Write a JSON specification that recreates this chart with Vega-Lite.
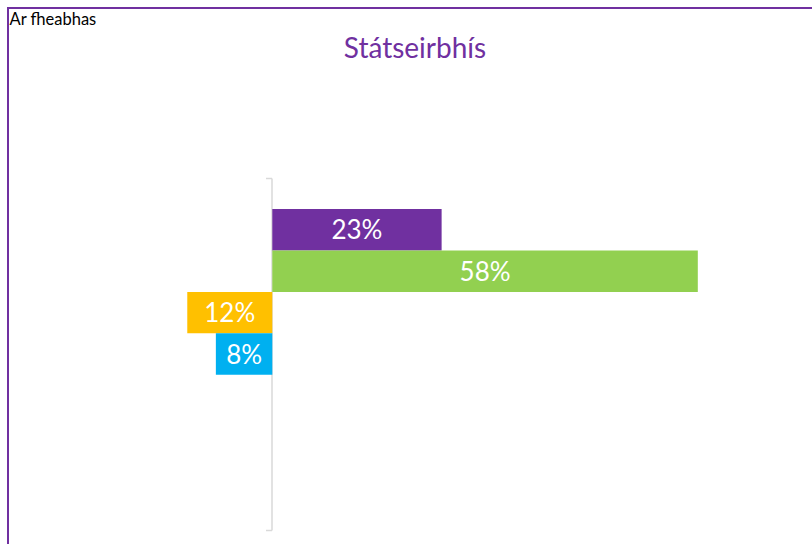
{
  "$schema": "https://vega.github.io/schema/vega-lite/v6.json",
  "autosize": "none",
  "width": 806,
  "height": 540,
  "padding": {"left": 8, "top": 8, "right": 0, "bottom": 0},
  "background": "white",
  "config": {"view": {"stroke": "#7030A0", "strokeWidth": 2}, "font": "Lato"},
  "title": {"text": "Státseirbhís", "color": "#7030A0", "font": "Lato", "fontSize": 28, "fontWeight": "normal", "anchor": "middle", "frame": "group", "offset": -56, "dx": 4},
  "data": {"values": [
    {"group": "Státseirbhís", "rating": "Ar fheabhas", "value": 0.231, "label": "23%"},
    {"group": "Státseirbhís", "rating": "Go maith", "value": 0.5805, "label": "58%"},
    {"group": "Státseirbhís", "rating": "Measartha", "value": -0.116, "label": "12%"},
    {"group": "Státseirbhís", "rating": "Go dona", "value": -0.077, "label": "8%"}
  ]},
  "encoding": {
    "y": {"field": "group", "type": "nominal",
      "scale": {"range": [170, 522], "paddingInner": 0, "paddingOuter": 0},
      "axis": {"orient": "left", "title": null, "labels": false, "domainColor": "#D9D9D9", "domainWidth": 1.5, "tickColor": "#D9D9D9", "tickSize": 6, "tickWidth": 1.5, "tickBand": "extent", "tickExtra": true, "offset": -263.5}},
    "yOffset": {"field": "rating", "type": "nominal",
      "scale": {"domain": ["Ar fheabhas", "Go maith", "Measartha", "Go dona", "An-dona", "Níl a fhios", "Gan freagra"], "paddingInner": 0, "paddingOuter": 0.75}}
  },
  "layer": [
    {
      "mark": {"type": "bar"},
      "encoding": {
        "x": {"field": "value", "type": "quantitative",
          "scale": {"domain": [-0.3, 0.7], "range": [44.4, 777.4], "nice": false, "zero": false},
          "axis": {"orient": "top", "domain": false, "ticks": false, "labels": false, "grid": false, "title": "Ar fheabhas", "titleX": 1, "titleY": 3, "titleAlign": "left", "titleBaseline": "top", "titleFontSize": 16.5, "titleFontWeight": "normal", "titleColor": "black", "titleFont": "Lato"}},
        "color": {"field": "rating", "type": "nominal",
          "scale": {"domain": ["Ar fheabhas", "Go maith", "Measartha", "Go dona", "An-dona", "Níl a fhios", "Gan freagra"], "range": ["#7030A0", "#92D050", "#FFC000", "#00B0F0", "#A5A5A5", "#5B9BD5", "#ED7D31"]},
          "legend": null}
      }
    },
    {
      "transform": [{"calculate": "datum.value / 2", "as": "mid"}],
      "mark": {"type": "text", "color": "white", "font": "Lato", "fontSize": 26, "align": "center", "baseline": "middle", "dy": 1.5},
      "encoding": {
        "x": {"field": "mid", "type": "quantitative"},
        "text": {"field": "label", "type": "nominal"}
      }
    }
  ]
}
